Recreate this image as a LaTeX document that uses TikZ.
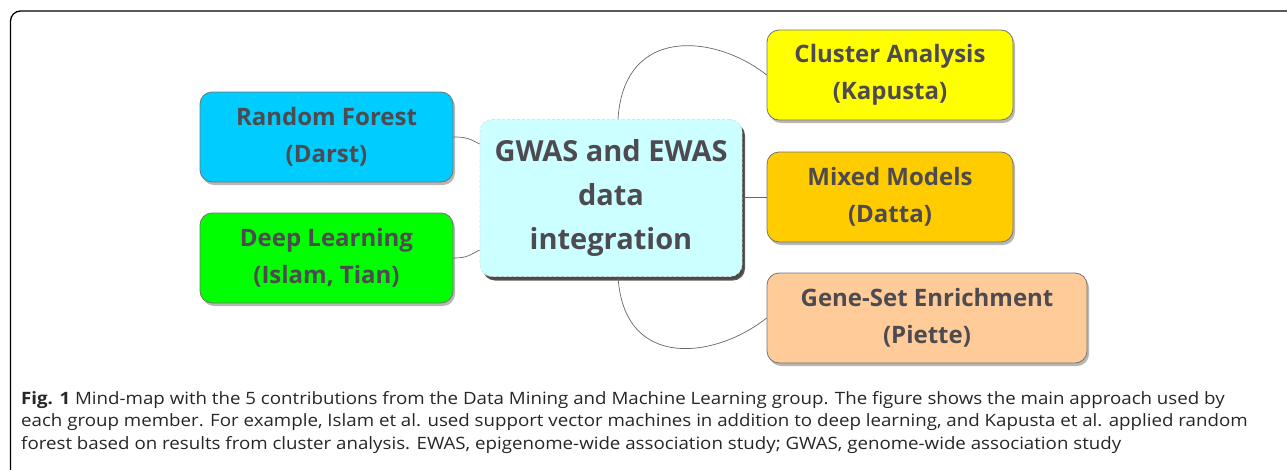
\documentclass[tikz,border=0pt]{standalone}
\usepackage{fontspec}
\setmainfont{Open Sans}
\newfontfamily\capfont[FakeStretch=1.1]{Open Sans}
\usetikzlibrary{shadows}

\definecolor{txtgrey}{HTML}{4D4A50}
\definecolor{rfblue}{HTML}{00CCFF}
\definecolor{dlgreen}{HTML}{00FF00}
\definecolor{clyellow}{HTML}{FFFF00}
\definecolor{mmorange}{HTML}{FFCC00}
\definecolor{gspeach}{HTML}{FFCC99}
\definecolor{hubcyan}{HTML}{CCFFFF}

\tikzset{
  topic/.style={draw=black!55, line width=0.8pt, rounded corners=12pt,
    inner sep=0pt, minimum height=90pt, text=txtgrey, align=center,
    font=\fontsize{24}{37}\selectfont\bfseries,
    execute at begin node={\rule{0pt}{24pt}},
    drop shadow={shadow xshift=2pt, shadow yshift=-3pt, opacity=0.4, fill=black!70}},
  hub/.style={topic, draw=black!12, densely dashed, fill=hubcyan,
    minimum width=262pt, minimum height=157pt,
    font=\fontsize{29}{44}\selectfont\bfseries,
    execute at begin node={\rule{0pt}{32pt}},
    drop shadow={shadow xshift=3pt, shadow yshift=-4pt, opacity=0.75, fill=black!85}},
  branch/.style={draw=black!60, line width=0.7pt},
  captext/.style={anchor=base west, inner sep=0pt, text=black!85,
    font=\capfont\fontsize{17}{22.5}\selectfont},
}

\begin{document}
\begin{tikzpicture}[x=1pt,y=-1pt]
  \useasboundingbox (0,0) rectangle (1287,469);

  % outer frame, cut at the page edge
  \begin{scope}
    \clip (0,0) rectangle (1287,469);
    \draw[line width=1.3pt, rounded corners=10pt] (10.5,11) rectangle (1320,500);
  \end{scope}

  % mind-map
  \node[hub] (hub) at (611,198) {GWAS and EWAS\\data\\integration};

  \node[topic, fill=rfblue, minimum width=253pt] (rf) at (326.5,137) {Random Forest\\(Darst)};
  \node[topic, fill=dlgreen, minimum width=253pt] (dl) at (326.5,258) {Deep Learning\\(Islam, Tian)};
  \node[topic, fill=clyellow, minimum width=246pt] (cl) at (890,75) {Cluster Analysis\\(Kapusta)};
  \node[topic, fill=mmorange, minimum width=246pt] (mm) at (890,197) {Mixed Models\\(Datta)};
  \node[topic, fill=gspeach, minimum width=320pt] (gs) at (927,318) {Gene-Set Enrichment\\(Piette)};

  \draw[branch] (rf.east) .. controls +(14,0) and +(-10,-5) .. ([yshift=54pt]hub.west);
  \draw[branch] (dl.east) .. controls +(14,0) and +(-10,5) .. ([yshift=-52pt]hub.west);
  \draw[branch] ([xshift=7pt]hub.north) .. controls +(6,-95) and +(-50,-40) .. (cl.west);
  \draw[branch] ([yshift=1pt]hub.east) -- (mm.west);
  \draw[branch] ([xshift=7pt]hub.south) .. controls +(6,95) and +(-50,40) .. (gs.west);

  % caption
  \node[captext] (cap1) at (21,404) {\textbf{Fig. 1} Mind-map with the 5 contributions from the Data Mining and Machine Learning group. The figure shows the main approach used by};
  \node[captext] (cap2) at (21,426.5) {each group member. For example, Islam et al. used support vector machines in addition to deep learning, and Kapusta et al. applied random};
  \node[captext] (cap3) at (21,449) {forest based on results from cluster analysis. EWAS, epigenome-wide association study; GWAS, genome-wide association study};
\end{tikzpicture}
\end{document}
